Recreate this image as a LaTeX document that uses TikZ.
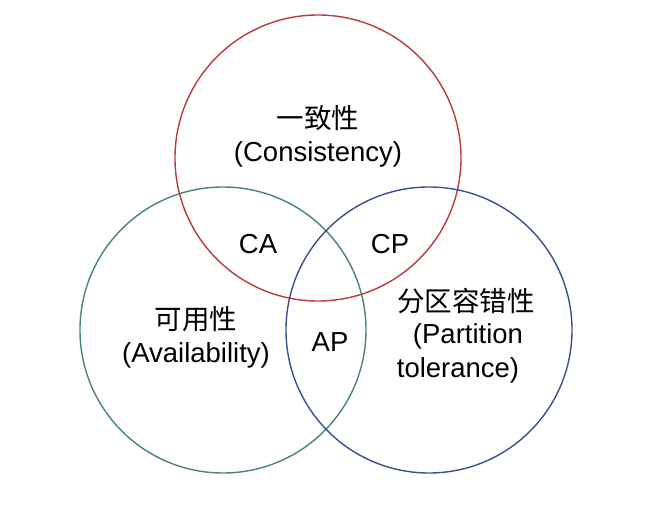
\documentclass[tikz,border=0pt]{standalone}
\usepackage{fontspec}
\setmainfont{Liberation Sans}
\newfontfamily\cjk{Noto Sans CJK SC}
\definecolor{cred}{RGB}{185,60,60}
\definecolor{cgreen}{RGB}{70,135,120}
\definecolor{cblue}{RGB}{60,80,145}
\begin{document}
\begin{tikzpicture}[x=1pt,y=-1pt,
  circ/.style={line width=1.4pt},
  lbl/.style={font=\fontsize{27.5}{32}\selectfont, inner sep=0pt}]
\useasboundingbox[fill=white] (0,0) rectangle (649,508);
\draw[circ,cred] (318,158) circle (143);
\draw[circ,cgreen] (223,330) circle (143);
\draw[circ,cblue] (429,330) circle (143);
\node[lbl] (c1) at (318,118) {\cjk 一致性};
\node[lbl] (c2) at (318,154) {(Consistency)};
\node[lbl] (ca) at (258,244) {CA};
\node[lbl] (cp) at (390,244) {CP};
\node[lbl] (ap) at (330,342) {AP};
\node[lbl] (a1) at (196,319) {\cjk 可用性};
\node[lbl] (a2) at (196,355) {(Availability)};
\node[lbl] (p1) at (466,301) {\cjk 分区容错性};
\node[lbl] (p2) at (468,336) {(Partition};
\node[lbl] (p3) at (458,370) {tolerance)};
\end{tikzpicture}
\end{document}
